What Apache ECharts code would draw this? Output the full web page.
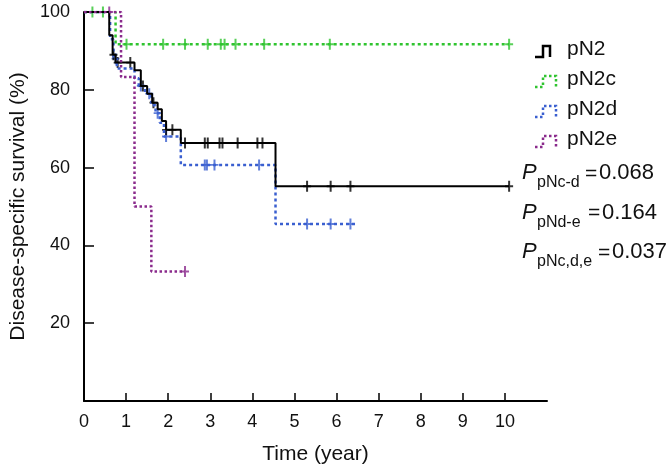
<!DOCTYPE html>
<html>
<head>
<meta charset="utf-8">
<script src="https://cdn.jsdelivr.net/npm/echarts@6/dist/echarts.min.js"></script>
<style>
  html, body { margin: 0; padding: 0; background: #fff; }
  #chart { width: 672px; height: 470px; }
</style>
</head>
<body>
<div id="chart"></div>
<script>
let xTicks = [0, 1, 2, 3, 4, 5, 6, 7, 8, 9, 10];
let yTicks = [20, 40, 60, 80, 100];

// step curves: time (year) and survival (%)
let pN2Time = [0, 0.6, 0.68, 0.75, 1.2, 1.35, 1.5, 1.62, 1.75, 1.85, 1.95, 2.3, 4.55, 10.1];
let pN2Surv = [100, 94, 89, 87, 85, 81, 79, 76.7, 75, 72, 69.7, 66.3, 55.2, 55.2];

let pN2cTime = [0, 0.75, 10.1];
let pN2cSurv = [100, 91.7, 91.7];

let pN2dTime = [0, 0.62, 0.7, 0.78, 1.2, 1.3, 1.45, 1.6, 1.7, 1.8, 1.9, 2.3, 4.55, 6.45];
let pN2dSurv = [100, 93, 88, 85.5, 83, 81, 79, 76, 74, 71.5, 68, 60.7, 45.5, 45.5];

let pN2eTime = [0, 0.88, 1.2, 1.6, 2.4];
let pN2eSurv = [100, 83.3, 50, 33.3, 33.3];

// censored observations
let pN2CensTime = [0.7, 0.8, 1.1, 1.4, 1.65, 1.95, 2.1, 2.4, 2.87, 2.94, 3.22, 3.29, 3.65, 4.12, 4.24, 5.3, 5.86, 6.33, 10.1];
let pN2CensSurv = [89, 87, 87, 81, 76.7, 69.7, 69.7, 66.3, 66.3, 66.3, 66.3, 66.3, 66.3, 66.3, 66.3, 55.2, 55.2, 55.2, 55.2];

let pN2cCensTime = [0.2, 0.45, 1.01, 1.88, 2.4, 2.94, 3.25, 3.34, 3.6, 4.28, 5.84, 10.1];
let pN2cCensSurv = [100, 100, 91.7, 91.7, 91.7, 91.7, 91.7, 91.7, 91.7, 91.7, 91.7, 91.7];

let pN2dCensTime = [0.75, 1.35, 1.55, 1.75, 1.95, 2.87, 2.92, 3.1, 4.16, 5.3, 5.86, 6.33];
let pN2dCensSurv = [88, 81, 79, 74, 68, 60.7, 60.7, 60.7, 60.7, 45.5, 45.5, 45.5];

let pN2eCensTime = [0.6, 2.4];
let pN2eCensSurv = [100, 33.3];

let groupNames = ['pN2', 'pN2c', 'pN2d', 'pN2e'];
let groupColors = ['#000000', '#2fc42f', '#3a5fd0', '#8a2a8c'];

let pLabels = ['pNc-d', 'pNd-e', 'pNc,d,e'];
let pValues = ['0.068', '0.164', '0.037'];

let font = "'Liberation Sans', Arial, Helvetica, sans-serif";

function zip(xs, ys) {
  return xs.map((x, i) => [x, ys[i]]);
}

let plusIcon = 'path://M3,0 H5 V5 H8 V7 H5 V12 H3 V7 H0 V5 H3 Z';

function stepSeries(name, time, surv, color, dash) {
  return {
    name: name,
    type: 'line',
    step: 'end',
    data: zip(time, surv),
    showSymbol: false,
    symbol: 'none',
    lineStyle: { color: color, width: dash ? 2.5 : 2, type: dash || 'solid' },
    animation: false
  };
}

function censorSeries(name, time, surv, color) {
  return {
    name: name + ' censored',
    type: 'scatter',
    data: zip(time, surv),
    symbol: plusIcon,
    symbolSize: [8, 11],
    itemStyle: { color: color },
    animation: false
  };
}

function legendGraphics() {
  let items = [];
  groupNames.forEach((name, i) => {
    let y0 = 57 + i * 30;
    let dashed = i > 0;
    let right = dashed ? 556 : 550;
    items.push({
      type: 'polyline',
      shape: { points: [[535, y0], [543, y0], [543, y0 - 11], [right, y0 - 11], [right, y0]] },
      style: {
        stroke: groupColors[i],
        lineWidth: 2.5,
        lineDash: dashed ? [2.5, 2.5] : null,
        fill: null
      }
    });
    items.push({
      type: 'text',
      x: 567,
      y: y0 - 8,
      style: {
        text: name,
        font: '21px ' + font,
        fill: '#111',
        verticalAlign: 'middle'
      }
    });
  });
  let eqX = [585, 588, 598];
  pLabels.forEach((sub, i) => {
    let y = 173 + i * 39.5;
    items.push({
      type: 'text', x: 522, y: y,
      style: { text: 'P', font: 'italic 22px ' + font, fill: '#111', verticalAlign: 'middle' }
    });
    items.push({
      type: 'text', x: 537, y: y + 10,
      style: { text: sub, font: '16px ' + font, fill: '#111', verticalAlign: 'middle' }
    });
    items.push({
      type: 'text', x: eqX[i], y: y + 1,
      style: { text: '=', font: '21px ' + font, fill: '#111', verticalAlign: 'middle' }
    });
    items.push({
      type: 'text', x: eqX[i] + 14, y: y,
      style: { text: pValues[i], font: '22px ' + font, fill: '#111', verticalAlign: 'middle' }
    });
  });
  return items;
}

let chart = echarts.init(document.getElementById('chart'));

let option = {
  backgroundColor: '#fff',
  animation: false,
  grid: { left: 80, right: 125, top: 12, bottom: 66 },
  xAxis: {
    type: 'value',
    min: 0,
    max: 11,
    interval: 1,
    name: 'Time (year)',
    nameLocation: 'middle',
    nameGap: 43,
    nameTextStyle: { fontSize: 21, color: '#111', fontFamily: font },
    axisLine: { lineStyle: { color: '#000', width: 2 } },
    axisTick: {
      inside: true, length: 8, lineStyle: { color: '#000', width: 1.5 },
      customValues: xTicks.slice(1)
    },
    axisLabel: {
      fontSize: 18, color: '#111', fontFamily: font, margin: 12,
      customValues: xTicks
    },
    splitLine: { show: false }
  },
  yAxis: {
    type: 'value',
    min: 0,
    max: 100,
    interval: 20,
    name: 'Disease-specific survival (%)',
    nameLocation: 'middle',
    nameGap: 55,
    nameTextStyle: { fontSize: 21, color: '#111', fontFamily: font },
    axisLine: { show: true, lineStyle: { color: '#000', width: 2 } },
    axisTick: {
      inside: true, length: 10, lineStyle: { color: '#000', width: 1.5 },
      customValues: yTicks
    },
    axisLabel: {
      fontSize: 18, color: '#111', fontFamily: font, margin: 14,
      customValues: yTicks
    },
    splitLine: { show: false }
  },
  graphic: legendGraphics(),
  series: [
    stepSeries('pN2c', pN2cTime, pN2cSurv, groupColors[1], [3, 3]),
    stepSeries('pN2d', pN2dTime, pN2dSurv, groupColors[2], [3, 3]),
    stepSeries('pN2', pN2Time, pN2Surv, groupColors[0], null),
    stepSeries('pN2e', pN2eTime, pN2eSurv, groupColors[3], [2.5, 2.5]),
    censorSeries('pN2c', pN2cCensTime, pN2cCensSurv, groupColors[1]),
    censorSeries('pN2d', pN2dCensTime, pN2dCensSurv, groupColors[2]),
    censorSeries('pN2', pN2CensTime, pN2CensSurv, groupColors[0]),
    censorSeries('pN2e', pN2eCensTime, pN2eCensSurv, groupColors[3])
  ]
};

chart.setOption(option);
</script>
</body>
</html>
